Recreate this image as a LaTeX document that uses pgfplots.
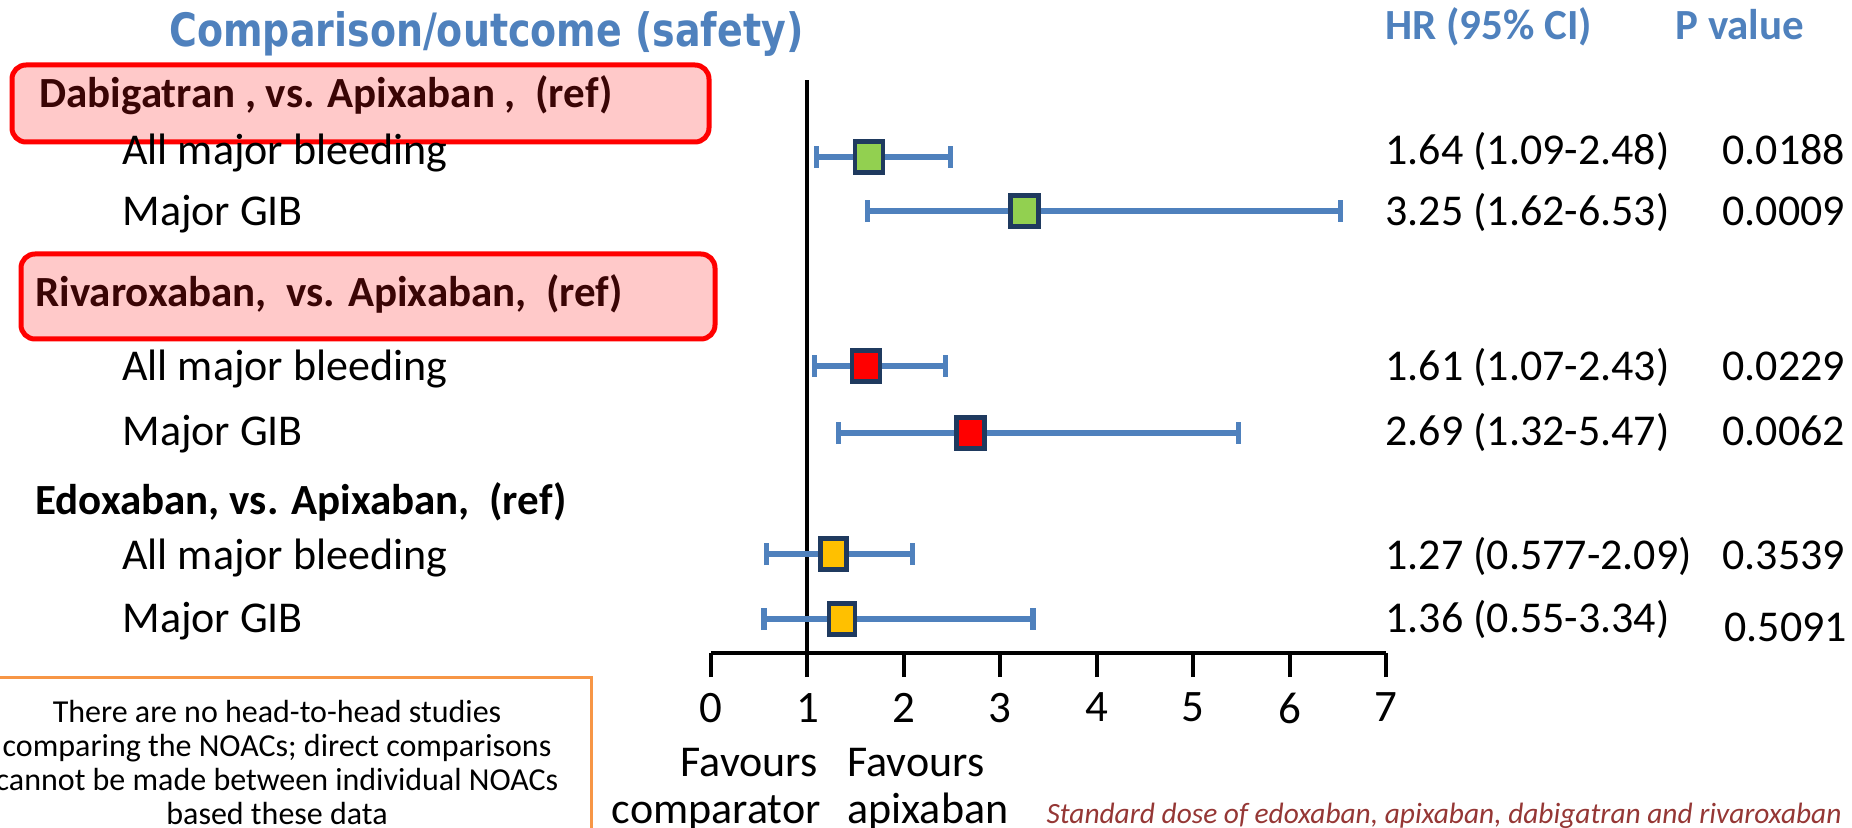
\documentclass[border=0pt]{standalone}
\usepackage{pgfplots}
\pgfplotsset{compat=1.18}
\usepackage{fontspec}
\setmainfont{Carlito}
\newfontfamily\titlefont{DejaVu Sans}
\usepackage{graphicx}
\definecolor{hrblue}{HTML}{4F81BD}
\definecolor{titleblue}{HTML}{4F81BD}
\definecolor{boxpink}{HTML}{FFC9C9}
\definecolor{hdrtext}{HTML}{3A0505}
\definecolor{mkborder}{HTML}{1F3A5F}
\definecolor{mkgreen}{HTML}{92D050}
\definecolor{mkred}{HTML}{FF0000}
\definecolor{mkgold}{HTML}{FFC000}
\definecolor{orangebox}{HTML}{F79646}
\definecolor{footred}{HTML}{953735}
\begin{document}
\begin{tikzpicture}
\path[use as bounding box] (0pt,0pt) rectangle (926pt,-414pt);
\clip (0pt,0pt) rectangle (926pt,-414pt);
\begin{scope}[x=0.5pt,y=-0.5pt]
 \draw[red, line width=2.5pt, fill=boxpink, rounded corners=7pt] (12,65) rectangle (709,142);
 \draw[red, line width=2.5pt, fill=boxpink, rounded corners=7pt] (21,254) rectangle (715,339);
 \draw[orangebox, line width=1.5pt] (-10,677) rectangle (591,860);
 % title
 \node[anchor=base west, text=titleblue, inner sep=0pt] at (169,47) {\resizebox{317pt}{\height}{\titlefont\bfseries\fontsize{23}{26}\selectfont Comparison/outcome (safety)}};
 \node[anchor=base west, text=titleblue, inner sep=0pt, font=\bfseries\fontsize{21.5}{26}\selectfont] at (1385,40) {HR (95\% CI)};
 \node[anchor=base west, text=titleblue, inner sep=0pt, font=\bfseries\fontsize{21.5}{26}\selectfont] at (1675,40) {P value};
 % group headers
 \begin{scope}[every node/.style={anchor=base west, inner sep=0pt, font=\bfseries\fontsize{21.5}{26}\selectfont}]
 \node[text=hdrtext] at (39,108) {Dabigatran , vs. Apixaban ,\ \ (ref)};
 \node[text=hdrtext] at (35,307) {Rivaroxaban,\ \ vs. Apixaban,\ \ (ref)};
 \node[text=black] at (35,514) {Edoxaban, vs. Apixaban,\ \ (ref)};
 \end{scope}
 \begin{scope}[every node/.style={anchor=base west, inner sep=0pt, font=\fontsize{22}{26}\selectfont}]
 \node at (122,165) {All major bleeding};
 \node at (122,226) {Major GIB};
 \node at (122,381) {All major bleeding};
 \node at (122,445) {Major GIB};
 \node at (122,569) {All major bleeding};
 \node at (122,632) {Major GIB};
 \node at (1385,165) {1.64 (1.09-2.48)};
 \node at (1385,226) {3.25 (1.62-6.53)};
 \node at (1385,381) {1.61 (1.07-2.43)};
 \node at (1385,445) {2.69 (1.32-5.47)};
 \node at (1385,569) {1.27 (0.577-2.09)};
 \node at (1385,632) {1.36 (0.55-3.34)};
 \node at (1722,165) {0.0188};
 \node at (1722,226) {0.0009};
 \node at (1722,381) {0.0229};
 \node at (1722,445) {0.0062};
 \node at (1722,569) {0.3539};
 \node at (1724,641) {0.5091};
 \node at (847,776) {Favours};
 \node at (847,823) {apixaban};
 \end{scope}
 \node[anchor=base east, inner sep=0pt, font=\fontsize{22}{26}\selectfont] at (818,776) {Favours};
 \node[anchor=base east, inner sep=0pt, font=\fontsize{22}{26}\selectfont] at (821,823) {comparator};
 \node[anchor=base east, inner sep=0pt, text=footred, font=\itshape\fontsize{14.7}{17}\selectfont] at (1842,823) {Standard dose of edoxaban, apixaban, dabigatran and rivaroxaban};
 \begin{scope}[every node/.style={anchor=base, inner sep=0pt, font=\fontsize{16}{19}\selectfont}]
 \node at (277,722) {There are no head-to-head studies};
 \node at (277,756) {comparing the NOACs; direct comparisons};
 \node at (277,790) {cannot be made between individual NOACs};
 \node at (277,824) {based these data};
 \end{scope}
\end{scope}
\begin{axis}[
 at={(355.5pt,-326.5pt)}, anchor=south west,
 scale only axis, width=337.5pt, height=286.5pt,
 xmin=0, xmax=7, ymin=80, ymax=653, y dir=reverse,
 axis x line=bottom, axis y line=none,
 x axis line style={-, line width=2pt, black},
 xtick={0,1,2,3,4,5,6,7}, ytick=\empty,
 tick align=outside, major tick length=12pt,
 tick style={line width=2pt, black},
 xticklabel style={font=\fontsize{22.5}{26}\selectfont, yshift=-4.5pt},
 /pgf/number format/assume math mode=true,
 clip=false,
]
\addplot[black, line width=2pt] coordinates {(1,80) (1,653)};
\addplot[only marks, mark=none,
 error bars/.cd, x dir=both, x explicit,
 error bar style={line width=2.8pt, hrblue},
 error mark options={rotate=90, hrblue, mark size=5.5pt, line width=2.6pt}]
 coordinates {
 (1.64,157) += (0.84,0) -= (0.55,0)
 (3.25,211) += (3.28,0) -= (1.63,0)
 (1.61,366) += (0.82,0) -= (0.54,0)
 (2.69,433) += (2.78,0) -= (1.37,0)
 (1.27,554) += (0.82,0) -= (0.693,0)
 (1.36,619) += (1.98,0) -= (0.81,0)
 };
\addplot[only marks, mark=square*, mark size=7pt, mark options={fill=mkgreen, draw=mkborder, line width=2.2pt, yscale=1.12}]
 coordinates {(1.64,157) (3.25,211)};
\addplot[only marks, mark=square*, mark size=7pt, mark options={fill=mkred, draw=mkborder, line width=2.2pt, yscale=1.12}]
 coordinates {(1.61,366) (2.69,433)};
\addplot[only marks, mark=square*, mark size=7pt, mark options={fill=mkgold, draw=mkborder, line width=2.2pt, xscale=0.92, yscale=1.12}]
 coordinates {(1.27,554) (1.36,619)};
\end{axis}
\end{tikzpicture}
\end{document}
